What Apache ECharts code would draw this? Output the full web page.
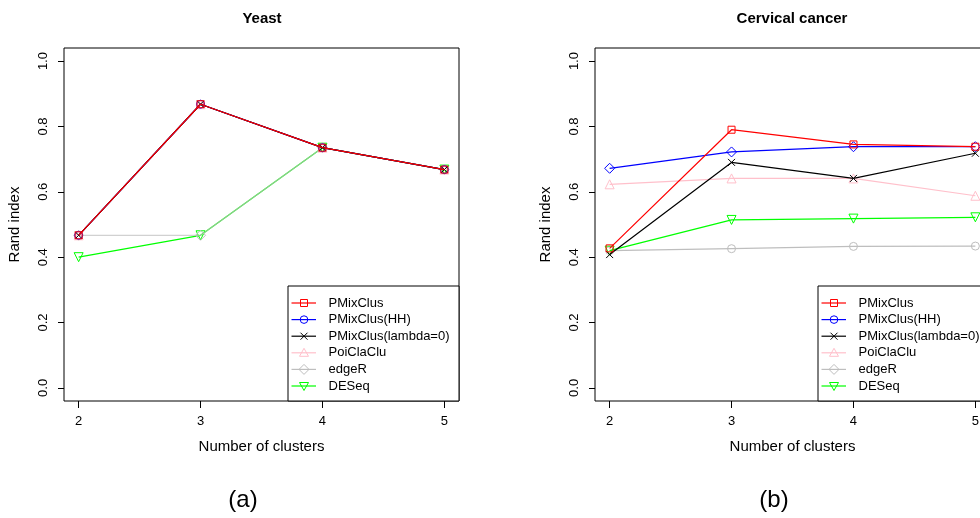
<!DOCTYPE html>
<html>
<head>
<meta charset="utf-8">
<script src="https://cdn.jsdelivr.net/npm/echarts@6/dist/echarts.min.js"></script>
<style>
  html, body { margin: 0; padding: 0; background: #fff; }
  #chart { width: 980px; height: 518px; }
</style>
</head>
<body>
<div id="chart"></div>
<script>
// Number of clusters on the x axis
const clusters = [2, 3, 4, 5];
const methodNames = ['PMixClus', 'PMixClus(HH)', 'PMixClus(lambda=0)', 'PoiClaClu', 'edgeR', 'DESeq'];
const yTicks = [0, 0.2, 0.4, 0.6, 0.8, 1.0];

// Yeast: Rand index per method
const yeastPMixClus   = [0.467, 0.868, 0.735, 0.668];
const yeastPMixClusHH = [0.467, 0.868, 0.735, 0.668];
const yeastLambda0    = [0.467, 0.868, 0.735, 0.668];
const yeastPoiClaClu  = [0.467, 0.868, 0.735, 0.668];
const yeastEdgeR      = [0.467, 0.467, 0.735, 0.668];
const yeastDESeq      = [0.400, 0.467, 0.735, 0.668];

// Cervical cancer: Rand index per method
const cervPMixClus   = [0.427, 0.790, 0.745, 0.738];
const cervPMixClusHH = [0.672, 0.722, 0.738, 0.738];
const cervLambda0    = [0.408, 0.690, 0.641, 0.718];
const cervPoiClaClu  = [0.623, 0.641, 0.641, 0.588];
const cervEdgeR      = [0.420, 0.426, 0.433, 0.434];
const cervDESeq      = [0.420, 0.514, 0.518, 0.522];

const FONT = '"Liberation Sans", Arial, Helvetica, sans-serif';
const colors = ['#ff0000', '#0000ff', '#000000', '#ffc0cb', '#bebebe', '#00ff00'];
const X_PATH = 'path://M0,0L10,10M10,0L0,10';
const LINE_W = 1.2;

// marker style per method (open symbols)
const markerDefs = {
  square:   { symbol: 'rect', size: 7, rotate: 0 },
  circle:   { symbol: 'circle', size: 8, rotate: 0 },
  cross:    { symbol: X_PATH, size: 7, rotate: 0 },
  triUp:    { symbol: 'triangle', size: 9, rotate: 0 },
  diamond:  { symbol: 'diamond', size: 10, rotate: 0 },
  triDown:  { symbol: 'triangle', size: 9, rotate: 180 }
};

function pairs(vals) { return clusters.map((c, i) => [c, vals[i]]); }

function makeSeries(gridIdx, name, vals, color, markerKey, opacity, z) {
  const m = markerDefs[markerKey];
  return {
    type: 'line', name: name, xAxisIndex: gridIdx, yAxisIndex: gridIdx,
    data: pairs(vals), z: z,
    symbol: m.symbol, symbolSize: m.size, symbolRotate: m.rotate, showSymbol: true,
    lineStyle: { color: color, width: LINE_W, opacity: opacity },
    itemStyle: { color: 'rgba(0,0,0,0)', borderColor: color, borderWidth: 1 },
    emphasis: { disabled: true }, silent: true, animation: false
  };
}

function xAxisCfg(gridIdx) {
  return {
    type: 'value', gridIndex: gridIdx, min: 1.88, max: 5.12,
    axisLine: { show: false, onZero: false }, splitLine: { show: false },
    axisTick: { show: true, length: 7, customValues: clusters, lineStyle: { color: '#000' } },
    axisLabel: { customValues: clusters, margin: 14, color: '#000', fontSize: 13, fontFamily: FONT },
    name: 'Number of clusters', nameLocation: 'middle', nameGap: 38,
    nameTextStyle: { color: '#000', fontSize: 15, fontFamily: FONT }
  };
}
function yAxisCfg(gridIdx) {
  return {
    type: 'value', gridIndex: gridIdx, min: -0.04, max: 1.04,
    axisLine: { show: false, onZero: false }, splitLine: { show: false },
    axisTick: { show: true, length: 6, customValues: yTicks, lineStyle: { color: '#000' } },
    axisLabel: { customValues: yTicks, rotate: 90, margin: 14, color: '#000', fontSize: 13, fontFamily: FONT,
                 formatter: v => v.toFixed(1) },
    name: 'Rand index', nameLocation: 'middle', nameGap: 42,
    nameTextStyle: { color: '#000', fontSize: 15, fontFamily: FONT }
  };
}

// legend symbol drawn as graphic shapes
function legendMarker(kind, cx, cy, color) {
  const st = { stroke: color, fill: 'none', lineWidth: 1 };
  switch (kind) {
    case 'square': return { type: 'rect', shape: { x: cx - 3.5, y: cy - 3.5, width: 7, height: 7 }, style: st };
    case 'circle': return { type: 'circle', shape: { cx: cx, cy: cy, r: 3.8 }, style: st };
    case 'cross': return { type: 'group', children: [
      { type: 'line', shape: { x1: cx - 3.5, y1: cy - 3.5, x2: cx + 3.5, y2: cy + 3.5 }, style: st },
      { type: 'line', shape: { x1: cx + 3.5, y1: cy - 3.5, x2: cx - 3.5, y2: cy + 3.5 }, style: st }] };
    case 'triUp': return { type: 'polygon', shape: { points: [[cx, cy - 4.5], [cx + 4.5, cy + 3.5], [cx - 4.5, cy + 3.5]] }, style: st };
    case 'diamond': return { type: 'polygon', shape: { points: [[cx, cy - 5], [cx + 5, cy], [cx, cy + 5], [cx - 5, cy]] }, style: st };
    case 'triDown': return { type: 'polygon', shape: { points: [[cx, cy + 4.5], [cx + 4.5, cy - 3.5], [cx - 4.5, cy - 3.5]] }, style: st };
  }
}

const legendKinds = ['square', 'circle', 'cross', 'triUp', 'diamond', 'triDown'];

function legendBox(left, top, width, height) {
  const children = [{ type: 'rect', shape: { x: left, y: top, width: width, height: height },
                      style: { fill: '#fff', stroke: '#000', lineWidth: 1 } }];
  methodNames.forEach((nm, i) => {
    const cy = top + 17 + i * 16.6;
    children.push({ type: 'line', shape: { x1: left + 3.5, y1: cy, x2: left + 28, y2: cy },
                    style: { stroke: colors[i], lineWidth: LINE_W } });
    children.push(legendMarker(legendKinds[i], left + 16, cy, colors[i]));
    children.push({ type: 'text', style: { text: nm, x: left + 40.5, y: cy, verticalAlign: 'middle',
                    font: '13px ' + FONT, fill: '#000' } });
  });
  return { type: 'group', z: 100, children: children };
}

const chart = echarts.init(document.getElementById('chart'), null, { renderer: 'canvas' });

const series = [
  // Yeast
  makeSeries(0, 'DESeq', yeastDESeq, colors[5], 'triDown', 1, 2),
  makeSeries(0, 'edgeR', yeastEdgeR, colors[4], 'diamond', 0.7, 3),
  makeSeries(0, 'PoiClaClu', yeastPoiClaClu, colors[3], 'triUp', 1, 4),
  makeSeries(0, 'PMixClus(HH)', yeastPMixClusHH, colors[1], 'circle', 1, 5),
  makeSeries(0, 'PMixClus(lambda=0)', yeastLambda0, colors[2], 'cross', 1, 6),
  makeSeries(0, 'PMixClus', yeastPMixClus, colors[0], 'square', 1, 7),
  // Cervical cancer
  makeSeries(1, 'edgeR', cervEdgeR, colors[4], 'circle', 1, 2),
  makeSeries(1, 'DESeq', cervDESeq, colors[5], 'triDown', 1, 3),
  makeSeries(1, 'PoiClaClu', cervPoiClaClu, colors[3], 'triUp', 1, 4),
  makeSeries(1, 'PMixClus(HH)', cervPMixClusHH, colors[1], 'diamond', 1, 5),
  makeSeries(1, 'PMixClus(lambda=0)', cervLambda0, colors[2], 'cross', 1, 6),
  makeSeries(1, 'PMixClus', cervPMixClus, colors[0], 'square', 1, 7)
];

chart.setOption({
  backgroundColor: '#fff',
  animation: false,
  grid: [
    { left: 64, width: 395, top: 48, height: 353, outerBoundsMode: 'none', containLabel: false,
      show: true, borderColor: '#000', borderWidth: 1, backgroundColor: 'rgba(0,0,0,0)' },
    { left: 595, width: 395, top: 48, height: 353, outerBoundsMode: 'none', containLabel: false,
      show: true, borderColor: '#000', borderWidth: 1, backgroundColor: 'rgba(0,0,0,0)' }
  ],
  xAxis: [xAxisCfg(0), xAxisCfg(1)],
  yAxis: [yAxisCfg(0), yAxisCfg(1)],
  series: series,
  graphic: [
    { type: 'text', style: { text: 'Yeast', x: 262, y: 19, align: 'center', verticalAlign: 'middle', font: 'bold 15px ' + FONT, fill: '#000' } },
    { type: 'text', style: { text: 'Cervical cancer', x: 792, y: 19, align: 'center', verticalAlign: 'middle', font: 'bold 15px ' + FONT, fill: '#000' } },
    legendBox(288, 286, 171, 115),
    legendBox(818, 286, 172, 115),
    { type: 'text', style: { text: '(a)', x: 243, y: 500, align: 'center', verticalAlign: 'middle', font: '24px ' + FONT, fill: '#000' } },
    { type: 'text', style: { text: '(b)', x: 774, y: 500, align: 'center', verticalAlign: 'middle', font: '24px ' + FONT, fill: '#000' } }
  ]
});
</script>
</body>
</html>
